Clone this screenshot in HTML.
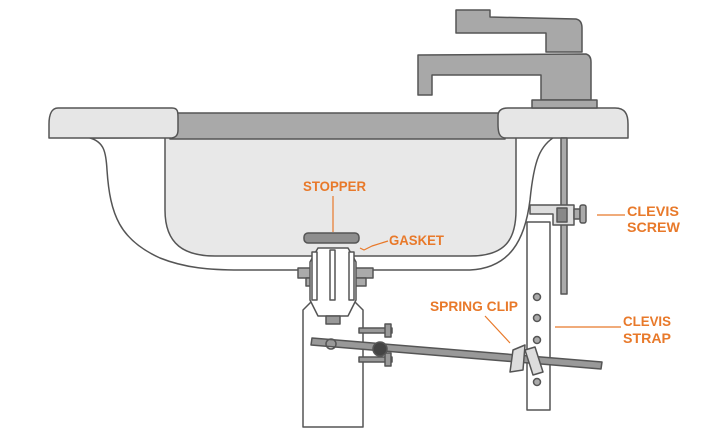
<!DOCTYPE html>
<html><head><style>
html,body{margin:0;padding:0;background:#fff;}
svg{display:block}
text{font-family:"Liberation Sans",sans-serif;font-weight:bold;fill:#e8792a;font-size:14px}
</style></head><body>
<svg width="720" height="439" viewBox="0 0 720 439" stroke="#555" stroke-width="1.5" stroke-linejoin="round">
<path d="M90 138 C104 142 106 152 107 170 C110 215 120 240 160 258 C185 268 210 270 240 270 L470 270 C510 268 525 240 530 200 C534 160 540 145 556 136 Z" fill="#fff"/>
<path d="M165 136 L165 210 C165 245 185 256 215 256 L470 256 C505 256 516 240 516 210 L516 136 Z" fill="#e8e8e8"/>
<rect x="170" y="113" width="335" height="26" fill="#a9a9a9"/>
<path d="M58 108 L172 108 C178 108 178 112 178 118 L178 130 C178 136 175 138 170 138 L49 138 L49 124 C49 114 52 108 58 108 Z" fill="#e6e6e6"/>
<path d="M508 108 L615 108 C625 108 628 114 628 124 L628 138 L506 138 C499 138 498 132 498 124 L498 116 C498 110 502 108 508 108 Z" fill="#e6e6e6"/>
<path d="M456 10 L490 10 L490 17 L576 19 C581 20 582 24 582 28 L582 52 L546 52 L546 33 L456 33 Z" fill="#a8a8a8"/>
<path d="M418 55 L586 54 C590 55 591 58 591 62 L591 100 L541 100 L541 75 L432 75 L432 95 L418 95 Z" fill="#a8a8a8"/>
<path d="M532 100 L597 100 L597 108 L532 108 Z" fill="#a8a8a8"/>
<rect x="561" y="138" width="6" height="156" fill="#aaa"/>
<path d="M313 300 L303 310 L303 427 L363 427 L363 310 L353 300 Z" fill="#fff"/>
<rect x="298" y="268" width="75" height="10" fill="#aaa"/>
<rect x="306" y="278" width="60" height="8" fill="#aaa"/>
<path d="M318 248 L348 248 L356 262 L356 300 L348 316 L318 316 L310 300 L310 262 Z" fill="#fff"/>
<rect x="312" y="252" width="5" height="48" fill="#fff"/>
<rect x="349" y="252" width="5" height="48" fill="#fff"/>
<rect x="330" y="250" width="5" height="50" fill="#fff"/>
<rect x="326" y="316" width="14" height="8" fill="#999"/>
<rect x="304" y="233" width="55" height="10" rx="4" fill="#8e8e8e"/>
<rect x="527" y="222" width="23" height="188" fill="#fff"/>
<circle cx="537" cy="297" r="3.5" fill="#aaa"/>
<circle cx="537" cy="318" r="3.5" fill="#aaa"/>
<circle cx="537" cy="340" r="3.5" fill="#aaa"/>
<circle cx="537" cy="382" r="3.5" fill="#aaa"/>
<path d="M530 205 L574 205 L574 225 L553 225 L553 214 L530 214 Z" fill="#ddd"/>
<rect x="557" y="208" width="10" height="14" fill="#888"/>
<rect x="574" y="209" width="6" height="10" fill="#aaa"/>
<rect x="580" y="205" width="6" height="18" rx="2" fill="#aaa"/>
<rect x="359" y="328" width="33" height="5" fill="#999"/>
<rect x="359" y="357" width="33" height="5" fill="#999"/>
<rect x="385" y="324" width="6" height="13" fill="#999"/>
<rect x="385" y="353" width="6" height="13" fill="#999"/>
<path d="M312 338 L602 362 L601 369 L311 345 Z" fill="#999"/>
<circle cx="331" cy="344" r="5" fill="none" stroke="#555"/>
<circle cx="380" cy="349" r="7" fill="#444"/>
<path d="M513 350 L525 345 L523 370 L510 372 Z" fill="#ddd"/>
<path d="M525 350 L535 347 L543 372 L533 375 Z" fill="#ddd"/>
<g stroke="#e8792a" stroke-width="1.2" fill="none">
<line x1="333" y1="196" x2="333" y2="232"/>
<path d="M360 248 L364 250 L372 246 L388 241"/>
<line x1="597" y1="215" x2="625" y2="215"/>
<line x1="555" y1="327" x2="621" y2="327"/>
<line x1="485" y1="316" x2="510" y2="343"/>
</g>
<g stroke="none">
<text x="303" y="191" textLength="63" lengthAdjust="spacingAndGlyphs">STOPPER</text>
<text x="389" y="245" textLength="55" lengthAdjust="spacingAndGlyphs">GASKET</text>
<text x="627" y="216" textLength="52" lengthAdjust="spacingAndGlyphs">CLEVIS</text>
<text x="627" y="232" textLength="53" lengthAdjust="spacingAndGlyphs">SCREW</text>
<text x="430" y="311" textLength="88" lengthAdjust="spacingAndGlyphs">SPRING CLIP</text>
<text x="623" y="326" textLength="48" lengthAdjust="spacingAndGlyphs">CLEVIS</text>
<text x="623" y="343" textLength="48" lengthAdjust="spacingAndGlyphs">STRAP</text>
</g>
</svg>
</body></html>
